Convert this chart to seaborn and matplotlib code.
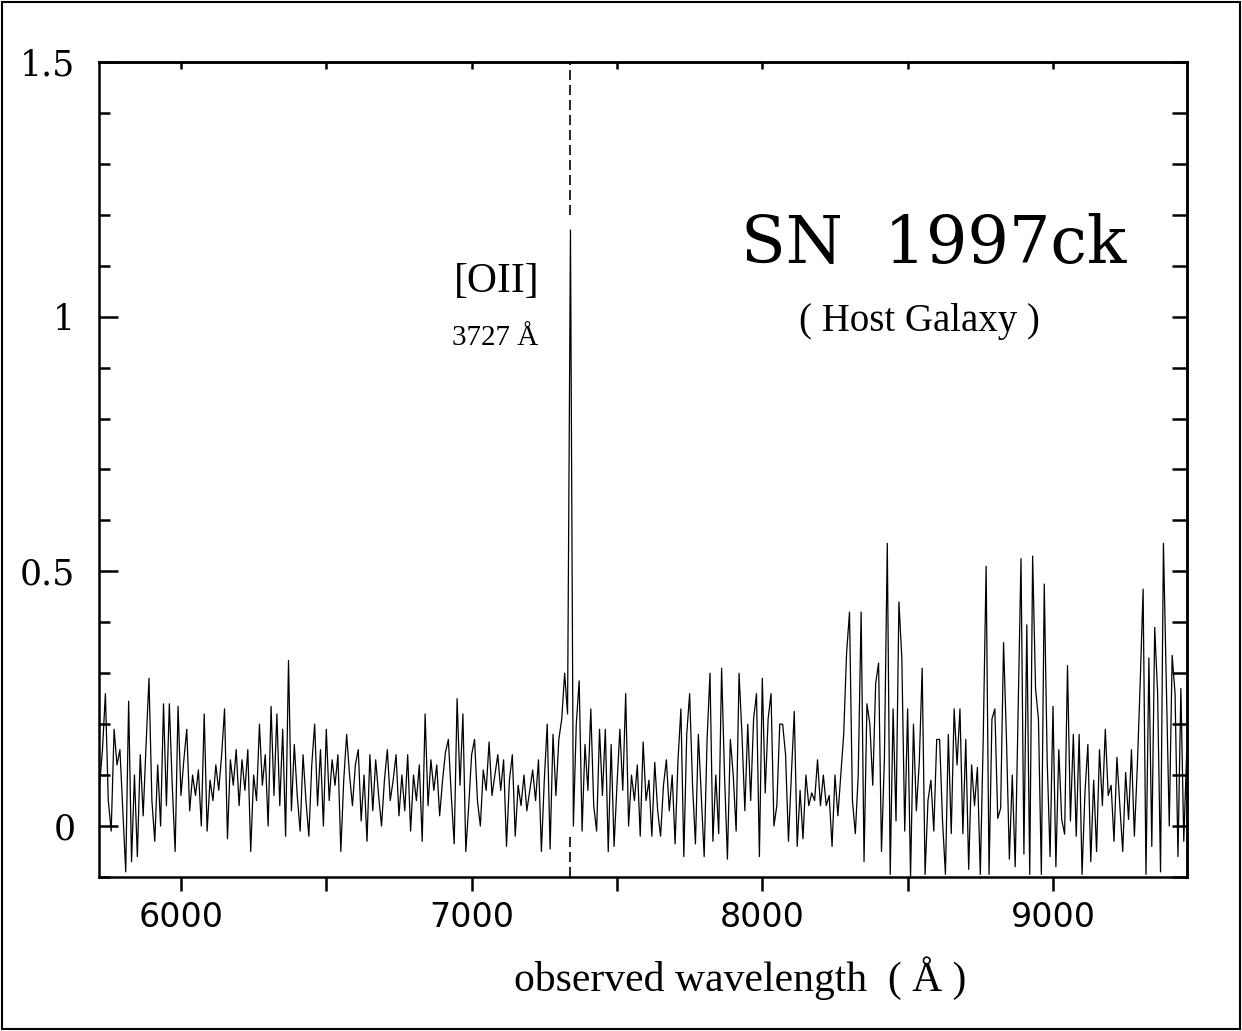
import numpy as np
import pandas as pd
import matplotlib.pyplot as plt
import seaborn as sns
from matplotlib.patches import Rectangle
from matplotlib.ticker import MultipleLocator, FixedLocator, FixedFormatter

# wavelength grid (Angstrom), one sample every 10 A
wave = np.arange(5720, 9461, 10)

# flux, in 500 A chunks
flux_5720 = [0.08, 0.15, 0.26, 0.05, -0.01, 0.19, 0.12, 0.15, 0.03, -0.09,
             0.245, -0.07, 0.1, -0.06, 0.14, 0.02, 0.16, 0.29, 0.05, -0.03,
             0.12, 0.0, 0.24, 0.04, 0.24, 0.08, -0.05, 0.235, 0.06, 0.13,
             0.19, 0.03, 0.1, 0.06, 0.11, 0.0, 0.22, -0.01, 0.09, 0.05,
             0.12, 0.07, 0.14, 0.23, -0.025, 0.13, 0.08, 0.15, 0.04, 0.13]
flux_6220 = [0.07, 0.15, -0.05, 0.1, 0.05, 0.2, 0.08, 0.14, 0.0, 0.235,
             0.06, 0.22, 0.04, 0.19, -0.02, 0.325, 0.03, 0.16, 0.06, -0.01,
             0.14, 0.05, -0.02, 0.12, 0.2, 0.04, 0.15, 0.0, 0.19, 0.05,
             0.13, 0.08, 0.14, -0.05, 0.09, 0.18, 0.1, 0.04, 0.12, 0.15,
             0.01, 0.1, -0.03, 0.14, 0.03, 0.13, 0.06, 0.0, 0.09, 0.15]
flux_6720 = [0.05, 0.09, 0.14, 0.02, 0.1, 0.03, 0.14, -0.01, 0.1, 0.05,
             0.12, -0.03, 0.22, 0.04, 0.13, 0.07, 0.12, 0.02, 0.09, 0.145,
             0.17, 0.06, -0.035, 0.25, 0.08, 0.22, -0.05, 0.04, 0.14, 0.17,
             0.05, 0.0, 0.11, 0.07, 0.165, 0.06, 0.1, 0.14, 0.07, 0.13,
             -0.04, 0.09, 0.14, -0.02, 0.08, 0.04, 0.1, 0.03, 0.07, 0.11]
flux_7220 = [0.05, 0.13, -0.05, 0.09, 0.2, -0.045, 0.18, 0.06, 0.17, 0.21,
             0.3, 0.22, 1.17, 0.0, 0.2, 0.285, -0.01, 0.16, 0.07, 0.23,
             0.04, -0.01, 0.19, 0.06, 0.19, -0.05, 0.16, -0.04, 0.08, 0.19,
             0.07, 0.26, 0.0, 0.1, 0.05, 0.12, -0.02, 0.165, 0.05, 0.09,
             -0.02, 0.125, 0.03, -0.02, 0.08, 0.13, 0.03, 0.1, -0.035, 0.13]
flux_7720 = [0.23, -0.06, 0.18, 0.26, 0.08, -0.035, 0.18, 0.06, -0.06, 0.17,
             0.3, -0.03, 0.1, -0.015, 0.31, 0.1, -0.065, 0.17, 0.1, -0.01,
             0.3, 0.18, 0.03, 0.2, 0.05, 0.21, 0.26, -0.06, 0.29, 0.065,
             0.21, 0.26, 0.0, 0.04, 0.2, 0.2, 0.14, -0.03, 0.1, 0.225,
             -0.04, 0.07, -0.025, 0.1, 0.04, 0.065, 0.05, 0.13, 0.04, 0.1]
flux_8220 = [0.04, 0.06, -0.04, 0.1, 0.02, 0.1, 0.18, 0.34, 0.42, 0.05,
             -0.015, 0.1, 0.42, -0.07, 0.24, 0.2, 0.08, 0.28, 0.32, -0.05,
             0.13, 0.555, -0.095, 0.23, 0.01, 0.44, 0.33, -0.01, 0.23, -0.1,
             0.2, 0.03, 0.125, 0.31, -0.095, 0.05, 0.09, -0.01, 0.17, 0.17,
             0.01, -0.095, 0.18, -0.015, 0.23, 0.12, 0.23, -0.015, 0.17, -0.085]
flux_8720 = [0.12, 0.04, 0.115, -0.095, 0.17, 0.51, -0.095, 0.21, 0.23, 0.015,
             0.035, 0.36, 0.17, -0.065, 0.1, -0.08, 0.22, 0.525, -0.055, 0.395,
             -0.095, 0.53, 0.27, 0.21, -0.095, 0.475, 0.13, -0.06, 0.235, -0.08,
             0.15, 0.013, -0.016, 0.315, 0.01, 0.18, -0.02, 0.18, -0.095, 0.065,
             0.16, -0.07, 0.09, -0.05, 0.15, 0.04, 0.19, 0.06, 0.08, -0.03]
flux_9220 = [0.135, 0.04, -0.05, 0.105, 0.013, 0.15, -0.02, 0.115, 0.28, 0.465,
             -0.095, 0.33, -0.04, 0.39, 0.26, -0.09, 0.555, 0.275, 0.0, 0.335,
             0.26, -0.06, 0.27, -0.03, 0.145]

flux = flux_5720 + flux_6220 + flux_6720 + flux_7220 + flux_7720 + flux_8220 + flux_8720 + flux_9220
df = pd.DataFrame({'wave': wave, 'flux': flux})

line_wave = 7340  # [OII] 3727 redshifted
ytick_values = [0, 0.5, 1, 1.5]
ytick_labels = ['0', '0.5', '1', '1.5']
xtick_values = [6000, 7000, 8000, 9000]

sns.set_style('ticks')
plt.rcParams['font.family'] = ['DejaVu Sans']
plt.rcParams.update({'axes.edgecolor': 'black', 'xtick.color': 'black',
                     'ytick.color': 'black', 'text.color': 'black',
                     'axes.labelcolor': 'black'})

fig = plt.figure(figsize=(12.42, 10.31), dpi=100)
ax = fig.add_axes([0.0797, 0.1494, 0.876, 0.7905])

sns.lineplot(data=df, x='wave', y='flux', ax=ax, color='black', linewidth=0.9, sort=False)

# dashed marker for the line, above and below the spectrum
ax.axvline(line_wave, ymin=0.8125, ymax=1.0, color='black', linestyle=(0, (6, 3)), linewidth=1.2)
ax.axvline(line_wave, ymin=0.0, ymax=0.055, color='black', linestyle=(0, (6, 3)), linewidth=1.2)

ax.set_xlim(5718, 9461)
ax.set_ylim(-0.1, 1.5)
ax.set_xlabel('')
ax.set_ylabel('')

for s in ax.spines.values():
    s.set_linewidth(1.8)
    s.set_visible(True)

ax.xaxis.set_major_locator(FixedLocator(xtick_values))
ax.xaxis.set_minor_locator(MultipleLocator(500))
ax.yaxis.set_major_locator(FixedLocator(ytick_values))
ax.yaxis.set_major_formatter(FixedFormatter(ytick_labels))
ax.yaxis.set_minor_locator(MultipleLocator(0.1))

ax.tick_params(axis='x', which='both', direction='out', length=10, width=1.8,
               top=False, bottom=True, pad=7, labelsize=24)
ax.tick_params(axis='y', which='major', direction='in', length=14, width=1.8,
               left=True, right=False, pad=17, labelsize=25,
               labelfontfamily='DejaVu Serif')
ax.tick_params(axis='y', which='minor', direction='in', length=8, width=1.8,
               left=True, right=False)

top = ax.secondary_xaxis('top')
top.xaxis.set_major_locator(MultipleLocator(500))
top.tick_params(direction='in', length=5, width=1.8, labeltop=False)
top.spines['top'].set_linewidth(1.8)

right = ax.secondary_yaxis('right')
right.yaxis.set_major_locator(MultipleLocator(0.1))
right.tick_params(direction='in', length=11, width=1.8, labelright=False)
right.spines['right'].set_linewidth(1.8)

ax.text(7087, 1.069, '[OII]', family='Liberation Serif', fontsize=30, ha='center', va='center')
ax.text(7080, 0.959, '3727 Å', family='Liberation Serif', fontsize=21, ha='center', va='center')
ax.text(8590, 1.141, 'SN  1997ck', family='DejaVu Serif', fontsize=47, ha='center', va='center')
ax.text(8542, 0.99, '( Host Galaxy )', family='Liberation Serif', fontsize=28, ha='center', va='center')

fig.text(0.596, 0.051, 'observed wavelength  ( Å )', family='Liberation Serif', fontsize=30,
         ha='center', va='center')

fig.patches.append(Rectangle((0.002, 0.002), 0.996, 0.996, transform=fig.transFigure,
                             fill=False, edgecolor='black', linewidth=1.5))

fig.savefig('out.png', dpi=100, facecolor='white')
